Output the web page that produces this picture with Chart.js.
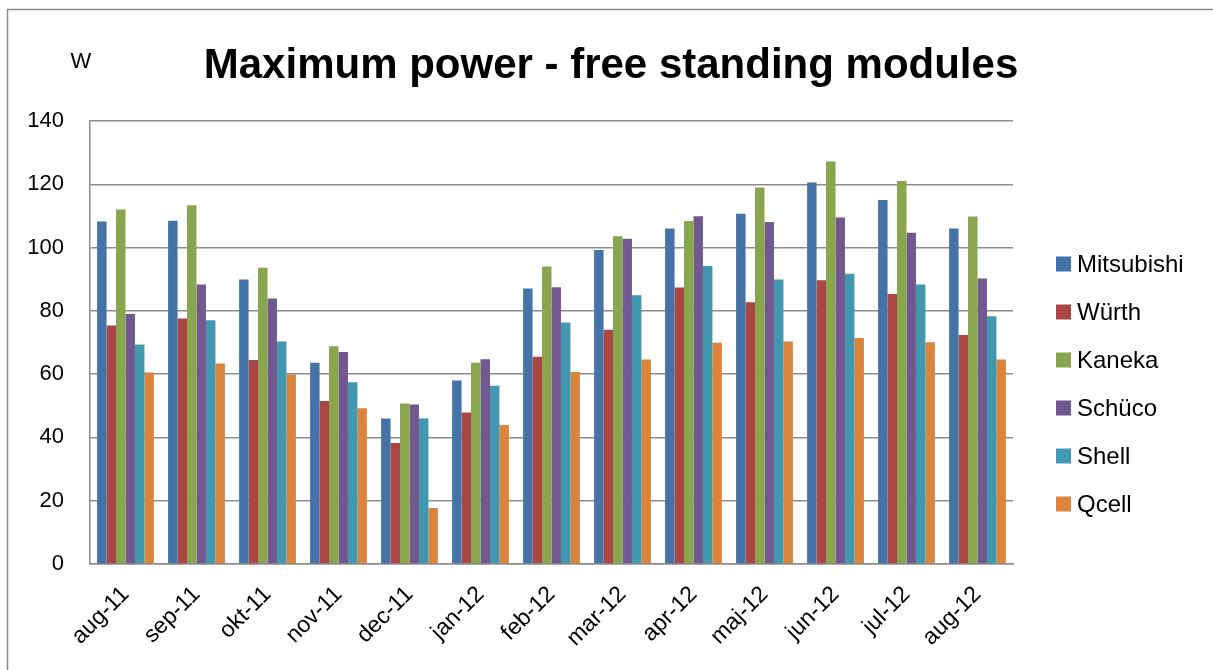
<!DOCTYPE html>
<html>
<head>
<meta charset="utf-8">
<script src="https://cdn.jsdelivr.net/npm/chart.js@4/dist/chart.umd.min.js"></script>
<style>
  html, body { margin: 0; padding: 0; background: #fff; }
  #wrap { width: 1213px; height: 670px; position: relative; }
</style>
</head>
<body>
<div id="wrap"><canvas id="grafico"></canvas></div>
<script>
// Dados
const meses = ['aug-11', 'sep-11', 'okt-11', 'nov-11', 'dec-11', 'jan-12', 'feb-12',
               'mar-12', 'apr-12', 'maj-12', 'jun-12', 'jul-12', 'aug-12'];
const mitsubishi = [108.2, 108.5, 89.9, 63.6, 46.0, 58.0, 87.1, 99.2, 106.0, 110.7, 120.6, 115.0, 106.0];
const wurth      = [75.4, 77.6, 64.5, 51.5, 38.2, 47.9, 65.5, 74.0, 87.4, 82.7, 89.7, 85.3, 72.4];
const kaneka     = [112.0, 113.4, 93.6, 68.8, 50.7, 63.6, 94.0, 103.6, 108.4, 119.0, 127.2, 121.0, 109.8];
const schuco     = [79.0, 88.3, 83.9, 67.0, 50.4, 64.7, 87.5, 102.8, 109.9, 108.1, 109.5, 104.7, 90.2];
const shell      = [69.4, 77.0, 70.3, 57.4, 46.0, 56.3, 76.3, 84.9, 94.2, 89.9, 91.7, 88.3, 78.3];
const qcell      = [60.5, 63.4, 59.9, 49.2, 17.7, 43.9, 60.7, 64.6, 69.9, 70.3, 71.4, 70.1, 64.6];
const yTicks = [0, 20, 40, 60, 80, 100, 120, 140];

const fonte = "'Liberation Sans', Arial, sans-serif";
const cinza = '#8c8c8c';

function serie(nome, dados, cor) {
    return {
        label: nome,
        data: dados,
        backgroundColor: cor,
        borderWidth: 0,
        categoryPercentage: 0.8,
        barPercentage: 1.0
    };
}

// Plugin para título, unidade, legenda e borda externa
const decoracao = {
    id: 'decoracao',
    afterDraw(chart) {
        const ctx = chart.ctx;
        ctx.save();
        // borda externa
        ctx.strokeStyle = cinza;
        ctx.lineWidth = 1.5;
        ctx.beginPath();
        ctx.moveTo(7.5, 670);
        ctx.lineTo(7.5, 9.5);
        ctx.lineTo(1213, 9.5);
        ctx.stroke();

        // título
        ctx.fillStyle = '#000';
        ctx.font = 'bold 42px ' + fonte;
        ctx.textAlign = 'center';
        ctx.textBaseline = 'alphabetic';
        ctx.fillText('Maximum power - free standing modules', 611, 78);

        // unidade
        ctx.font = '22px ' + fonte;
        ctx.fillText('W', 81, 68);

        // legenda
        ctx.textAlign = 'left';
        ctx.textBaseline = 'middle';
        ctx.font = '24px ' + fonte;
        chart.data.datasets.forEach((ds, i) => {
            const y = 264 + i * 48;
            ctx.fillStyle = ds.backgroundColor;
            ctx.fillRect(1056, y - 7.5, 15, 15);
            ctx.fillStyle = '#000';
            ctx.fillText(ds.label, 1077, y + 1);
        });
        ctx.restore();
    }
};

new Chart(document.getElementById('grafico'), {
    type: 'bar',
    data: {
        labels: meses,
        datasets: [
            serie('Mitsubishi', mitsubishi, '#4572A7'),
            serie('Würth', wurth, '#AA4643'),
            serie('Kaneka', kaneka, '#89A54E'),
            serie('Schüco', schuco, '#71588F'),
            serie('Shell', shell, '#4198AF'),
            serie('Qcell', qcell, '#DB843D')
        ]
    },
    options: {
        responsive: true,
        maintainAspectRatio: false,
        animation: false,
        layout: {
            padding: { left: 0, right: 200, top: 121, bottom: 0 }
        },
        plugins: {
            legend: { display: false },
            tooltip: { enabled: false }
        },
        scales: {
            y: {
                min: 0,
                max: 140,
                afterBuildTicks: (axis) => { axis.ticks = yTicks.map(v => ({ value: v })); },
                afterFit: (axis) => { axis.width = 90; },
                grid: {
                    color: cinza,
                    lineWidth: 1.5,
                    drawTicks: false
                },
                border: { display: true, color: cinza, width: 1.5 },
                ticks: {
                    padding: 26,
                    color: '#000',
                    font: { family: fonte, size: 22 }
                }
            },
            x: {
                afterFit: (axis) => { axis.height = 670 - 564; },
                grid: { display: false, drawTicks: false },
                border: { display: true, color: cinza, width: 1.5 },
                ticks: {
                    minRotation: 45,
                    maxRotation: 45,
                    padding: 17,
                    color: '#000',
                    font: { family: fonte, size: 23 }
                }
            }
        }
    },
    plugins: [decoracao]
});
</script>
</body>
</html>
